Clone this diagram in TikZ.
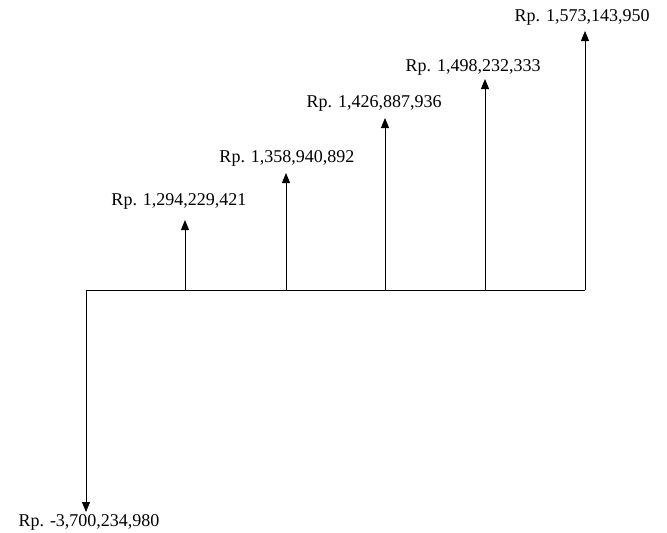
\documentclass[tikz,border=0pt]{standalone}
\usepackage{fontspec}
\setmainfont{Liberation Serif}
\usetikzlibrary{arrows.meta}
\begin{document}
\begin{tikzpicture}[x=1pt,y=-1pt,
  flow/.style={line width=0.9pt,-{Triangle[length=10pt,width=8pt]}},
  base/.style={line width=0.9pt},
  lbl/.style={font=\fontsize{18}{20}\selectfont,inner sep=0pt}]
\useasboundingbox (0,0) rectangle (667,533);
\coordinate (s) at (86,290);
\coordinate (e) at (585,290);
\coordinate (b1) at (185,290);
\coordinate (b2) at (286,290);
\coordinate (b3) at (385,290);
\coordinate (b4) at (485,290);
\coordinate (t0) at (86,512);
\coordinate (t1) at (185,220);
\coordinate (t2) at (286,173);
\coordinate (t3) at (385,118);
\coordinate (t4) at (485,79);
\coordinate (t5) at (585,31);
\draw[base] (s) -- (e);
\draw[flow] (s) -- (t0);
\draw[flow] (b1) -- (t1);
\draw[flow] (b2) -- (t2);
\draw[flow] (b3) -- (t3);
\draw[flow] (b4) -- (t4);
\draw[flow] (e) -- (t5);
\node[lbl] (l0) at (89,522) {Rp. -3,700,234,980};
\node[lbl] (l1) at (179,201) {Rp. 1,294,229,421};
\node[lbl] (l2) at (287,158) {Rp. 1,358,940,892};
\node[lbl] (l3) at (374,103) {Rp. 1,426,887,936};
\node[lbl] (l4) at (473,67) {Rp. 1,498,232,333};
\node[lbl] (l5) at (582,17) {Rp. 1,573,143,950};
\end{tikzpicture}
\end{document}
